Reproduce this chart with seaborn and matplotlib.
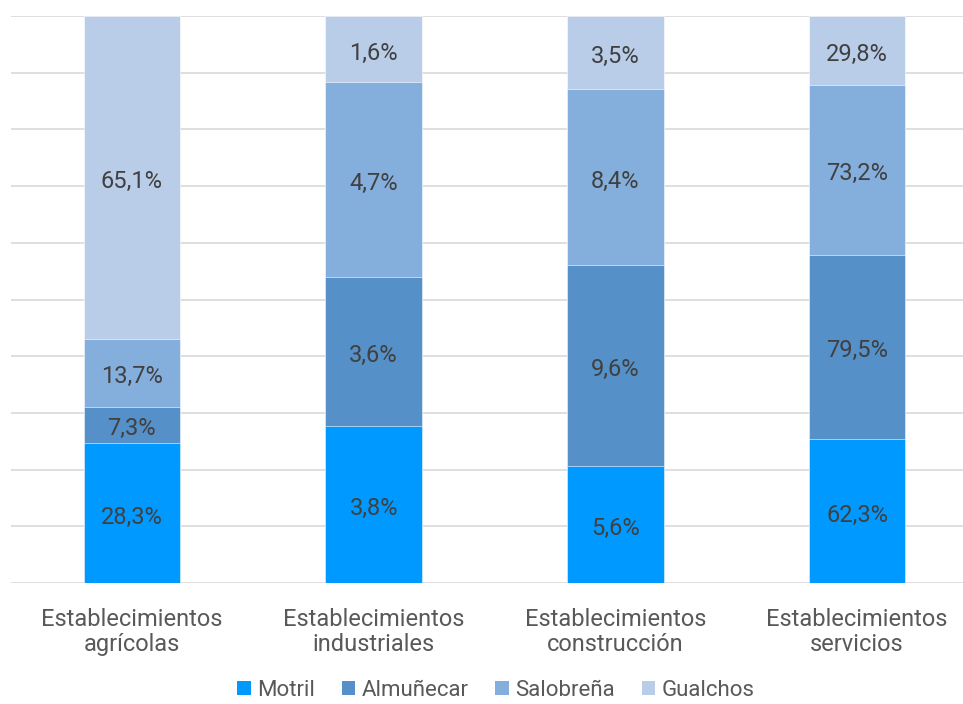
import numpy as np
import pandas as pd
import matplotlib
matplotlib.use("Agg")
import matplotlib.pyplot as plt
from matplotlib.patches import Patch
import seaborn as sns

# values shown in the chart labels (bars are normalised to 100%)
categorias = ["Establecimientos\nagrícolas", "Establecimientos\nindustriales",
              "Establecimientos\nconstrucción", "Establecimientos\nservicios"]
motril = [28.3, 3.8, 5.6, 62.3]
almunecar = [7.3, 3.6, 9.6, 79.5]
salobrena = [13.7, 4.7, 8.4, 73.2]
gualchos = [65.1, 1.6, 3.5, 29.8]

series = ["Motril", "Almuñecar", "Salobreña", "Gualchos"]
colores = ["#0099FF", "#5590C8", "#84AEDC", "#B9CDE8"]

sns.set_theme(style="white")
plt.rcParams["font.family"] = ["Roboto", "DejaVu Sans"]

vals = np.array([motril, almunecar, salobrena, gualchos])
pct = vals / vals.sum(axis=0) * 100
cum = np.cumsum(pct, axis=0)

fig = plt.figure(figsize=(9.63, 7.04), dpi=100)
ax = fig.add_axes([11 / 963, (704 - 583) / 704, 967 / 963, 567 / 704])

# draw cumulative bars back to front
for i in range(len(series) - 1, -1, -1):
    df = pd.DataFrame({"cat": categorias, "val": cum[i]})
    sns.barplot(data=df, x="cat", y="val", color=colores[i], width=0.4,
                saturation=1, ax=ax, edgecolor="white", linewidth=0.4, zorder=3)

# value labels
for j in range(len(categorias)):
    base = 0
    for i in range(len(series)):
        mid = base + pct[i, j] / 2
        txt = f"{vals[i, j]:.1f}%".replace(".", ",")
        ax.annotate(txt, (j, mid), xytext=(0, -3), textcoords="offset points",
                    ha="center", va="center", fontsize=17,
                    color="#404040", zorder=5)
        base += pct[i, j]

ax.set_ylim(0, 100)
ax.set_xlim(-0.5, 3.5)
ax.set_yticks(np.arange(0, 101, 10))
ax.yaxis.grid(True, color="#D9D9D9", linewidth=1.2)
ax.set_axisbelow(True)
ax.tick_params(axis="y", left=False, labelleft=False)
ax.tick_params(axis="x", length=0, pad=18, labelsize=17, labelcolor="#595959")
for lbl in ax.get_xticklabels():
    lbl.set_linespacing(1.1)
ax.set_xlabel("")
ax.set_ylabel("")
for s in ax.spines.values():
    s.set_visible(False)

handles = [Patch(facecolor=c, edgecolor="none") for c in colores]
fig.legend(handles, series, loc="lower center", bbox_to_anchor=(0.515, -0.024),
           ncol=4, frameon=False, handlelength=0.6, handleheight=0.6,
           handletextpad=0.3, columnspacing=1.2,
           prop={"size": 16}, labelcolor="#595959")

fig.savefig("out.png", dpi=100)
